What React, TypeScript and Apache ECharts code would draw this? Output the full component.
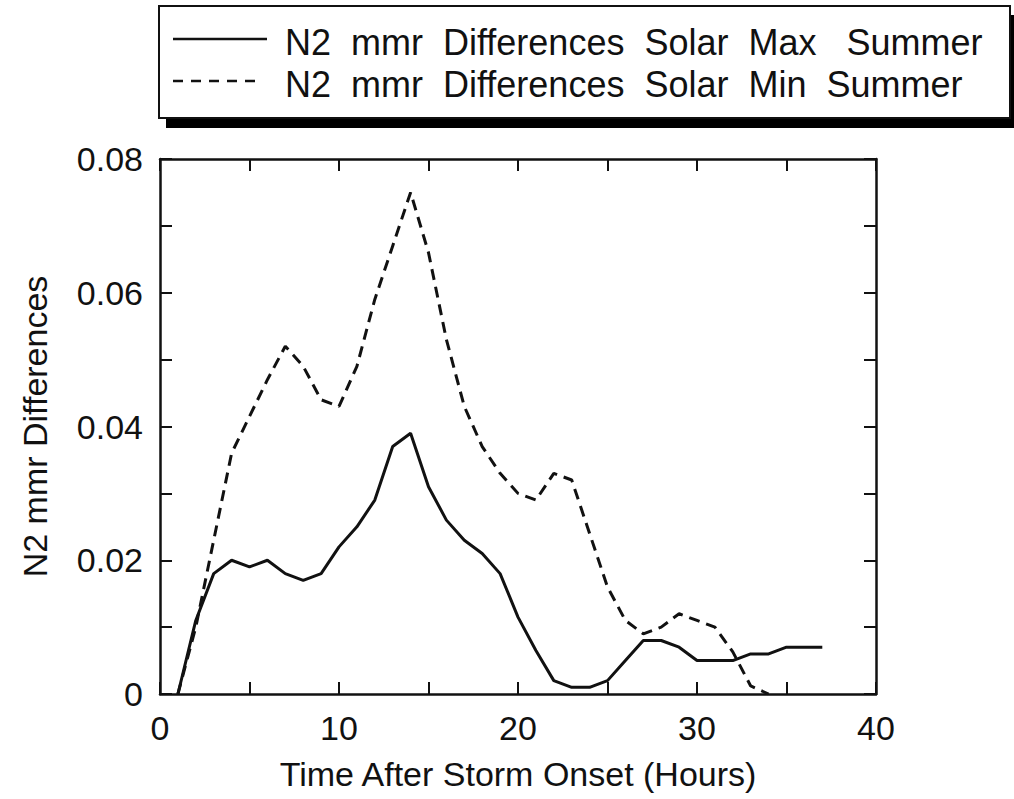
import React, { useEffect, useRef } from "react";
import * as echarts from "echarts";

const hoursMax = [1,2,3,4,5,6,7,8,9,10,11,12,13,14,15,16,17,18,19,20,21,22,23,24,25,26,27,28,29,30,31,32,33,34,35,36,37];
const n2SolarMaxSummer = [0,0.011,0.018,0.020,0.019,0.020,0.018,0.017,0.018,0.022,0.025,0.029,0.037,0.039,0.031,0.026,0.023,0.021,0.018,0.0115,0.0065,0.002,0.001,0.001,0.002,0.005,0.008,0.008,0.007,0.005,0.005,0.005,0.006,0.006,0.007,0.007,0.007];

const hoursMin = [1,2,3,4,5,6,7,8,9,10,11,12,13,14,15,16,17,18,19,20,21,22,23,24,25,26,27,28,29,30,31,32,33,34];
const n2SolarMinSummer = [0,0.010,0.023,0.036,0.0415,0.047,0.052,0.049,0.044,0.043,0.049,0.059,0.067,0.075,0.066,0.053,0.043,0.037,0.033,0.030,0.029,0.033,0.032,0.024,0.016,0.011,0.009,0.010,0.012,0.011,0.010,0.0063,0.0012,0];

const legendLabels = [
  "N2  mmr  Differences  Solar  Max   Summer",
  "N2  mmr  Differences  Solar  Min  Summer",
];
const xTitle = "Time After Storm Onset (Hours)";
const yTitle = "N2 mmr Differences";

const FONT = "'Liberation Sans', Arial, Helvetica, sans-serif";
const INK = "#111";

export default function App() {
  const ref = useRef<HTMLDivElement>(null);
  useEffect(() => {
    document.body.style.margin = "0";
    const chart = echarts.init(ref.current!, null, { renderer: "svg" });
    const tickStyle = { show: true, inside: true, length: 12, lineStyle: { color: INK, width: 2 } };
    const axisLine = { show: true, onZero: false, lineStyle: { color: INK, width: 2.5 } };
    const xFmt = (v: number) => (Math.round(v) % 10 === 0 ? String(Math.round(v)) : "");
    const yFmt = (v: number) => {
      const k = Math.round(v * 100);
      if (k % 2 !== 0) return "";
      return k === 0 ? "0" : (k / 100).toFixed(2);
    };
    chart.setOption({
      animation: false,
      backgroundColor: "#fff",
      grid: { left: 160, right: 138, top: 159, bottom: 105, containLabel: false },
      xAxis: [
        {
          type: "value", position: "bottom", min: 0, max: 40, interval: 5,
          axisLine, axisTick: tickStyle, splitLine: { show: false },
          axisLabel: { formatter: xFmt, color: INK, fontSize: 34, fontFamily: FONT, margin: 17 },
          name: xTitle, nameLocation: "middle", nameGap: 63,
          nameTextStyle: { color: INK, fontSize: 34, fontFamily: FONT },
        },
        {
          type: "value", position: "top", min: 0, max: 40, interval: 5,
          axisLine, axisTick: tickStyle, splitLine: { show: false }, axisLabel: { show: false },
        },
      ],
      yAxis: [
        {
          type: "value", position: "left", min: 0, max: 0.08, interval: 0.01,
          axisLine, axisTick: tickStyle, splitLine: { show: false },
          axisLabel: { formatter: yFmt, color: INK, fontSize: 34, fontFamily: FONT, margin: 17 },
          name: yTitle, nameLocation: "middle", nameGap: 108,
          nameTextStyle: { color: INK, fontSize: 34, fontFamily: FONT },
        },
        {
          type: "value", position: "right", min: 0, max: 0.08, interval: 0.01,
          axisLine, axisTick: tickStyle, splitLine: { show: false }, axisLabel: { show: false },
        },
      ],
      series: [
        {
          name: legendLabels[0], type: "line", xAxisIndex: 0, yAxisIndex: 0,
          data: hoursMax.map((t, i) => [t, n2SolarMaxSummer[i]]),
          showSymbol: false, symbol: "none",
          lineStyle: { color: INK, width: 3 },
        },
        {
          name: legendLabels[1], type: "line", xAxisIndex: 0, yAxisIndex: 0,
          data: hoursMin.map((t, i) => [t, n2SolarMinSummer[i]]),
          showSymbol: false, symbol: "none",
          lineStyle: { color: INK, width: 3, type: [11, 7] },
        },
      ],
      graphic: [
        { type: "rect", shape: { x: 166, y: 15, width: 860, height: 113 }, style: { fill: "#000" }, silent: true },
        { type: "rect", shape: { x: 159, y: 6, width: 851, height: 112 }, style: { fill: "#fff", stroke: INK, lineWidth: 2 }, silent: true },
        { type: "line", shape: { x1: 173, y1: 39, x2: 267, y2: 39 }, style: { stroke: INK, lineWidth: 2.5 }, silent: true },
        { type: "line", shape: { x1: 173, y1: 81, x2: 259, y2: 81 }, style: { stroke: INK, lineWidth: 2.5, lineDash: [10, 8] }, silent: true },
        { type: "text", x: 285, y: 42, style: { text: legendLabels[0], fill: INK, fontSize: 36, fontFamily: FONT, textVerticalAlign: "middle" }, silent: true },
        { type: "text", x: 285, y: 84, style: { text: legendLabels[1], fill: INK, fontSize: 36, fontFamily: FONT, textVerticalAlign: "middle" }, silent: true },
      ],
    });
    return () => chart.dispose();
  }, []);
  return <div ref={ref} style={{ width: 1014, height: 799 }} />;
}
